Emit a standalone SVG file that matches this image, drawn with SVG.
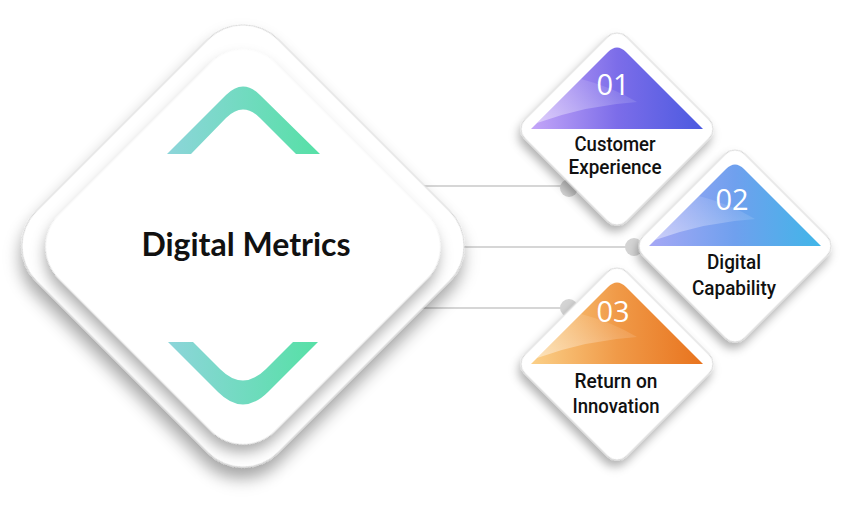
<svg xmlns="http://www.w3.org/2000/svg" width="850" height="508" viewBox="0 0 850 508">
<style>
.lbl{font-family:Roboto,"Liberation Sans",sans-serif;font-weight:500;font-size:21px;fill:#111;text-anchor:middle}
.num{font-family:"Open Sans","Liberation Sans",sans-serif;font-weight:400;font-size:29px;fill:#fff;text-anchor:middle}
.title{font-family:Lato,"Liberation Sans",sans-serif;font-weight:700;font-size:32px;fill:#111;text-anchor:middle}
.conn{stroke:#d6d6d6;stroke-width:2;fill:none}
.dot{fill:#d4d4d4}
.body{fill:#fff;stroke:#d4d4d4;stroke-width:1}
</style>
<defs>
<filter id="shBig" x="-20%" y="-20%" width="150%" height="150%"><feDropShadow dx="7" dy="9" stdDeviation="8" flood-color="#000" flood-opacity="0.35"/></filter>
<filter id="shIn" x="-20%" y="-20%" width="150%" height="150%"><feDropShadow dx="5" dy="7" stdDeviation="7" flood-color="#000" flood-opacity="0.32"/></filter>
<filter id="shSm" x="-30%" y="-30%" width="170%" height="170%"><feDropShadow dx="3" dy="6" stdDeviation="5" flood-color="#000" flood-opacity="0.3"/></filter>
<linearGradient id="chev" x1="0" y1="0" x2="1" y2="0"><stop offset="0" stop-color="#8dd5da"/><stop offset="1" stop-color="#56e0a6"/></linearGradient>
<linearGradient id="g1" x1="0" y1="0" x2="1" y2="0"><stop offset="0" stop-color="#c4a6f8"/><stop offset="0.5" stop-color="#7c6de9"/><stop offset="1" stop-color="#4b5ae0"/></linearGradient>
<linearGradient id="g2" x1="0" y1="0" x2="1" y2="0"><stop offset="0" stop-color="#a6a8f5"/><stop offset="0.5" stop-color="#6fa0ee"/><stop offset="1" stop-color="#40b6e8"/></linearGradient>
<linearGradient id="g3" x1="0" y1="0" x2="1" y2="0"><stop offset="0" stop-color="#fbd088"/><stop offset="0.5" stop-color="#f09a48"/><stop offset="1" stop-color="#e8731e"/></linearGradient>
<linearGradient id="gloss" x1="0" y1="1" x2="1" y2="0"><stop offset="0" stop-color="#fff" stop-opacity="0.45"/><stop offset="1" stop-color="#fff" stop-opacity="0"/></linearGradient>
<path id="tri" d="M-86,0 L-9,-77 Q0,-86 9,-77 L86,0 Z"/>
<path id="hl" d="M-80,-6 L-36,-50 Q-5,-42 20,-27 Q-30,-24 -80,-6 Z"/>
</defs>

<g id="connectors">
<line class="conn" x1="400" y1="186" x2="568" y2="186"/>
<line class="conn" x1="440" y1="247" x2="634" y2="247"/>
<line class="conn" x1="400" y1="308" x2="568" y2="308"/>
<circle class="dot" cx="569" cy="188" r="9"/>
<circle class="dot" cx="634" cy="247" r="9"/>
<circle class="dot" cx="569" cy="308" r="9"/>
</g>

<g id="digital-metrics">
<rect class="body" x="-171" y="-171" width="342" height="342" rx="50" transform="translate(243,246) rotate(45)" filter="url(#shBig)"/>
<rect x="-152.5" y="-152.5" width="305" height="305" rx="45" fill="#fff" transform="translate(243,247) rotate(45)" filter="url(#shIn)"/>
<path d="M167,154 L226,95 Q243,78 260,95 L320,154 L296,154 L260,118 Q243,101 226,118 L191,154 Z" fill="url(#chev)"/>
<path d="M168,342 L218,392 Q243,417 268,392 L318,342 L293,342 L266,369 Q243,392 220,369 L193,342 Z" fill="url(#chev)"/>
<text class="title" x="246" y="256">Digital Metrics</text>
</g>

<g id="customer-experience" transform="translate(617,129)">
<rect class="body" x="-72" y="-72" width="144" height="144" rx="14" transform="rotate(45)" filter="url(#shSm)"/>
<use href="#tri" fill="url(#g1)"/>
<use href="#hl" fill="url(#gloss)"/>
<text class="num" x="-4" y="-34">01</text>
<text class="lbl" x="-2" y="22" textLength="81" lengthAdjust="spacingAndGlyphs">Customer</text>
<text class="lbl" x="-2" y="45" textLength="93" lengthAdjust="spacingAndGlyphs">Experience</text>
</g>

<g id="digital-capability" transform="translate(735,246)">
<rect class="body" x="-72" y="-72" width="144" height="144" rx="14" transform="rotate(45)" filter="url(#shSm)"/>
<use href="#tri" fill="url(#g2)"/>
<use href="#hl" fill="url(#gloss)"/>
<text class="num" x="-3" y="-36">02</text>
<text class="lbl" x="-1" y="23" textLength="54" lengthAdjust="spacingAndGlyphs">Digital</text>
<text class="lbl" x="-1" y="49" textLength="84" lengthAdjust="spacingAndGlyphs">Capability</text>
</g>

<g id="return-on-innovation" transform="translate(617,364)">
<rect class="body" x="-72" y="-72" width="144" height="144" rx="14" transform="rotate(45)" filter="url(#shSm)"/>
<use href="#tri" fill="url(#g3)"/>
<use href="#hl" fill="url(#gloss)"/>
<text class="num" x="-4" y="-42">03</text>
<text class="lbl" x="-1" y="24" textLength="83" lengthAdjust="spacingAndGlyphs">Return on</text>
<text class="lbl" x="-1" y="49" textLength="87" lengthAdjust="spacingAndGlyphs">Innovation</text>
</g>
</svg>
